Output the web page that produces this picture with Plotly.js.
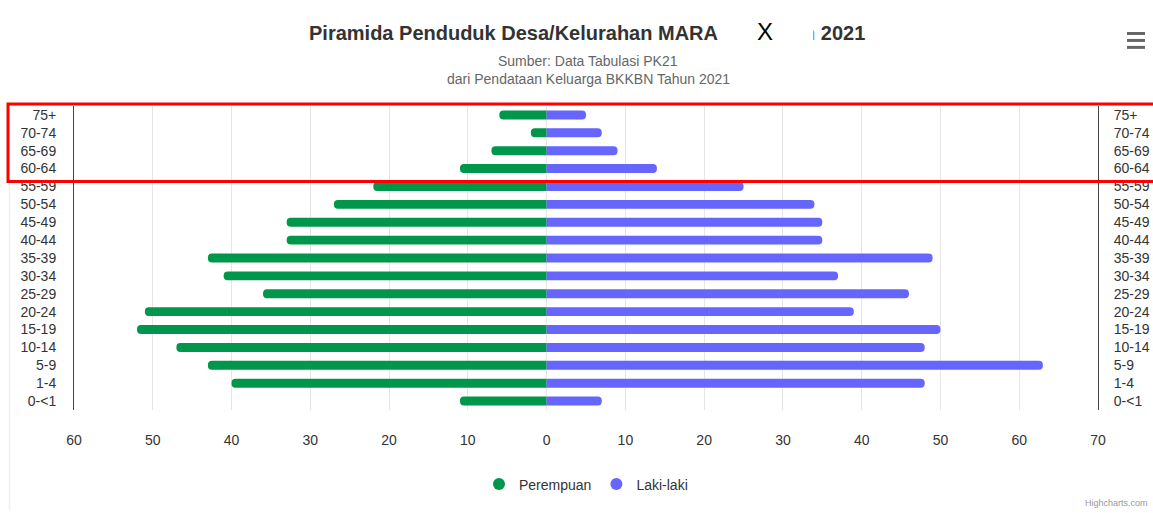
<!DOCTYPE html>
<html>
<head>
<meta charset="utf-8">
<script src="https://cdn.plot.ly/plotly-3.0.1.min.js"></script>
<style>
html,body{margin:0;padding:0;background:#fff;}
#chart{width:1153px;height:513px;}
</style>
</head>
<body>
<div id="chart"></div>
<script>
// ---- data ----
const ageGroups = ['75+','70-74','65-69','60-64','55-59','50-54','45-49','40-44','35-39','30-34','25-29','20-24','15-19','10-14','5-9','1-4','0-<1'];
const perempuan = [6, 2, 7, 11, 22, 27, 33, 33, 43, 41, 36, 51, 52, 47, 43, 40, 11];
const lakiLaki  = [5, 7, 9, 14, 25, 34, 35, 35, 49, 37, 46, 39, 50, 48, 63, 48, 7];
const xTickVals = [-60,-50,-40,-30,-20,-10,0,10,20,30,40,50,60,70];
const xTickText = ['60','50','40','30','20','10','0','10','20','30','40','50','60','70'];
const seriesNames = ['Perempuan','Laki-laki'];
const titleLeft = 'Piramida Penduduk Desa/Kelurahan MARA';
const titleRight = 'n 2021';
const subtitle1 = 'Sumber: Data Tabulasi PK21';
const subtitle2 = 'dari Pendataan Keluarga BKKBN Tahun 2021';

// ---- layout helpers (pixel -> paper) ----
const W = 1153, H = 513;
const M = {l:74, r:55, t:106, b:101};
const PW = W - M.l - M.r, PH = H - M.t - M.b;
const px = x => (x - M.l) / PW;
const py = y => (H - M.b - y) / PH;

const FONT = '"Liberation Sans", Arial, sans-serif';
const GREEN = '#00964B', BLUE = '#6666FF';

const negPerempuan = perempuan.map(v => -v);

const traces = [
  {type:'bar', orientation:'h', y: ageGroups, x: negPerempuan, yaxis:'y', name: seriesNames[0],
   marker:{color: GREEN, cornerradius: 4}, width: 0.5, showlegend:false,
   customdata: perempuan, hovertemplate:'%{y}: %{customdata}<extra>'+seriesNames[0]+'</extra>'},
  {type:'bar', orientation:'h', y: ageGroups, x: lakiLaki, yaxis:'y2', name: seriesNames[1],
   marker:{color: BLUE, cornerradius: 4}, width: 0.5, showlegend:false},
  {type:'scatter', mode:'markers', x:[null], y:[null], name: seriesNames[0],
   marker:{color: GREEN, size: 13, symbol:'circle'}},
  {type:'scatter', mode:'markers', x:[null], y:[null], name: seriesNames[1],
   marker:{color: BLUE, size: 13, symbol:'circle'}}
];

const catAxis = {
  type:'category', categoryorder:'array', categoryarray: ageGroups,
  tickmode:'array', tickvals: ageGroups, ticktext: ageGroups,
  range:[16.5, -0.5], showline:true, linecolor:'#444', linewidth:1,
  showgrid:false, zeroline:false, ticks:'', ticklabelstandoff: 14,
  tickfont:{family: FONT, size: 14, color:'#333'}, fixedrange:true
};

const layout = {
  width: W, height: H,
  margin: M,
  paper_bgcolor:'#fff', plot_bgcolor:'#fff',
  barmode:'overlay',
  showlegend:true,
  legend:{orientation:'h', x:0.5, xanchor:'center', y: py(487), yanchor:'middle',
          font:{family: FONT, size: 14, color:'#333'}, itemsizing:'constant', itemwidth:30},
  xaxis:{range:[-60,70], tickvals: xTickVals, ticktext: xTickText,
         showgrid:true, gridcolor:'#e6e6e6', gridwidth:1, zeroline:false,
         showline:false, ticks:'', ticklabelstandoff: 20,
         tickfont:{family: FONT, size: 14, color:'#333'}, fixedrange:true},
  yaxis: Object.assign({}, catAxis, {side:'left'}),
  yaxis2: Object.assign({}, catAxis, {side:'right', overlaying:'y', anchor:'x', ticklabelstandoff: 12}),
  shapes:[
    // red highlight box
    {type:'rect', xref:'paper', yref:'paper', x0: px(8), x1: px(1160), y0: py(104), y1: py(182),
     fillcolor:'rgba(0,0,0,0)', line:{color:'#ff0000', width:3}, layer:'above'},
    // faint left border
    {type:'line', xref:'paper', yref:'paper', x0: px(9.5), x1: px(9.5), y0: py(185), y1: py(513),
     line:{color:'#eef0f6', width:1.5}},
    // menu icon
    {type:'rect', xref:'paper', yref:'paper', x0: px(1127), x1: px(1145), y0: py(31.5), y1: py(34.5), fillcolor:'#666', line:{width:0}},
    {type:'rect', xref:'paper', yref:'paper', x0: px(1127), x1: px(1145), y0: py(38.5), y1: py(41.5), fillcolor:'#666', line:{width:0}},
    {type:'rect', xref:'paper', yref:'paper', x0: px(1127), x1: px(1145), y0: py(45.5), y1: py(48.5), fillcolor:'#666', line:{width:0}}
  ],
  annotations:[
    {xref:'paper', yref:'paper', x: px(867), y: py(33), xanchor:'right', yanchor:'middle', showarrow:false,
     text:'<b>'+titleRight+'</b>', font:{family: FONT, size: 20, color:'#333'}},
    {xref:'paper', yref:'paper', x: px(720), y: py(33), xanchor:'right', yanchor:'middle', showarrow:false,
     text:'<b>'+titleLeft+'</b>', font:{family: FONT, size: 20, color:'#333'}},
    // white cover over hidden part of the title
    {xref:'paper', yref:'paper', x: px(719), y: py(33), xanchor:'left', yanchor:'middle', showarrow:false,
     text:' ', width: 93, height: 34, bgcolor:'#fff', borderpad:0, font:{size:10}},
    {xref:'paper', yref:'paper', x: px(765), y: py(31), xanchor:'center', yanchor:'middle', showarrow:false,
     text:'X', font:{family: FONT, size: 24, color:'#000'}},
    {xref:'paper', yref:'paper', x: px(588), y: py(61), xanchor:'center', yanchor:'middle', showarrow:false,
     text: subtitle1, font:{family: FONT, size: 14, color:'#666'}},
    {xref:'paper', yref:'paper', x: px(588), y: py(79), xanchor:'center', yanchor:'middle', showarrow:false,
     text: subtitle2, font:{family: FONT, size: 14, color:'#666'}},
    {xref:'paper', yref:'paper', x: px(1150), y: py(506), xanchor:'right', yanchor:'middle', showarrow:false,
     text:'Highcharts.com', font:{family: FONT, size: 9, color:'#999'}}
  ]
};

Plotly.newPlot('chart', traces, layout, {displayModeBar:false});
</script>
</body>
</html>
